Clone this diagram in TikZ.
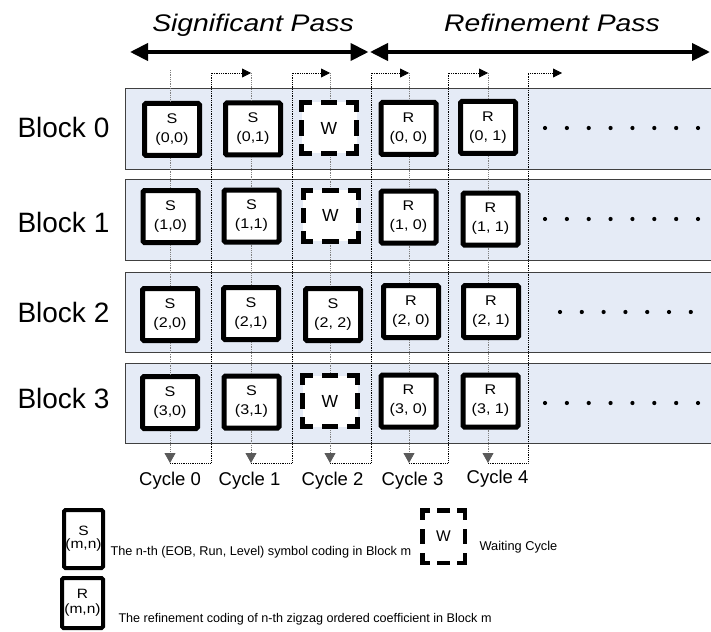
\documentclass[tikz,border=0pt]{standalone}
\usepackage{fontspec}
\usepackage{graphicx}
\setmainfont{Liberation Sans}
\usetikzlibrary{arrows.meta}

\definecolor{rowblue}{RGB}{229,235,246}
\definecolor{tipgray}{RGB}{90,90,90}

% slightly widened text used inside the coding boxes
\newcommand\widetext[1]{\scalebox{1.15}[1]{#1}}

% one side of a waiting-cycle frame: corner piece, gap, middle dash, gap, corner piece
\newcommand\waitside[4]{% from, to, side length, line width
  \pgfmathsetmacro\wsa{0.19*#3-#4/2}%
  \pgfmathsetmacro\wsb{0.16*#3+#4}%
  \pgfmathsetmacro\wsc{0.30*#3-#4}%
  \draw[line width=#4pt, line cap=rect,
        dash pattern=on \wsa pt off \wsb pt on \wsc pt off \wsb pt on \wsa pt off 200pt]
        (#1) -- (#2);}
\newcommand\waitframe[4]{% node, width, height, line width
  \waitside{#1.north west}{#1.north east}{#2}{#4}%
  \waitside{#1.north east}{#1.south east}{#3}{#4}%
  \waitside{#1.south east}{#1.south west}{#2}{#4}%
  \waitside{#1.south west}{#1.north west}{#3}{#4}}

\tikzset{
  rowbg/.style={fill=rowblue, draw=black!75, line width=0.9pt},
  codebox/.style={draw, fill=white, line width=5pt, rounded corners=1.5pt,
    minimum width=55pt, minimum height=52pt, inner sep=0pt, align=center,
    font=\fontsize{14}{19}\selectfont},
  waitbox/.style={fill=white, minimum width=55pt, minimum height=51pt,
    inner sep=0pt, outer sep=0pt, font=\fontsize{17.5}{20}\selectfont},
  colline/.style={black!50, densely dotted, line width=0.8pt},
  stepline/.style={black, densely dotted, line width=0.8pt},
  steptip/.style={-{Triangle[length=9pt,width=9pt]}},
  downtip/.style={-{Triangle[length=10pt,width=11pt,color=tipgray]}},
  passarrow/.style={line width=4pt,
    {Triangle[length=18pt,width=17pt]}-{Triangle[length=18pt,width=17pt]}},
  passtitle/.style={anchor=base, font=\fontsize{24}{26}\selectfont\itshape},
  blocklabel/.style={anchor=base west, font=\fontsize{28}{30}\selectfont},
  cyclelabel/.style={anchor=base, font=\fontsize{18.5}{20}\selectfont},
  legendtext/.style={anchor=base west, font=\fontsize{12.7}{14}\selectfont},
}

\begin{document}
\begin{tikzpicture}[x=1pt,y=-1pt]
\useasboundingbox (0,0) rectangle (711,631);

% pass headings and their extent arrows
\node[passtitle] (sigtitle) at (253,32) {\scalebox{1.18}[1]{Significant Pass}};
\node[passtitle] (reftitle) at (552,32) {\scalebox{1.18}[1]{Refinement Pass}};
\coordinate (spL) at (130,52);
\coordinate (spR) at (368.5,52);
\coordinate (rpL) at (370,52);
\coordinate (rpR) at (710,52);
\draw[passarrow] (spL) -- (spR);
\draw[passarrow] (rpL) -- (rpR);

% block rows
\foreach \t/\b in {88/169,179/260,272/352,363/443}
  \draw[rowbg] (125,\t) rectangle (716,\b);

\node[blocklabel] (blk0) at (14,138) {Block 0};
\node[blocklabel] (blk1) at (14,232) {Block 1};
\node[blocklabel] (blk2) at (14,322) {Block 2};
\node[blocklabel] (blk3) at (14,408) {Block 3};

% coding slots
\node[codebox] (b00) at (172,129.5) {\widetext{S}\\\widetext{(0,0)}};
\node[codebox] (b01) at (253,129)   {\widetext{S}\\\widetext{(0,1)}};
\node[waitbox] (b02) at (329,128)   {W};
\node[codebox] (b03) at (408.5,128.5) {\widetext{R}\\\widetext{(0, 0)}};
\node[codebox] (b04) at (488,127.5) {\widetext{R}\\\widetext{(0, 1)}};

\node[codebox] (b10) at (170.5,216.5) {\widetext{S}\\\widetext{(1,0)}};
\node[codebox] (b11) at (251.5,216)   {\widetext{S}\\\widetext{(1,1)}};
\node[waitbox] (b12) at (330.5,215.5) {W};
\node[codebox] (b13) at (408.5,217)   {\widetext{R}\\\widetext{(1, 0)}};
\node[codebox] (b14) at (490.5,219)   {\widetext{R}\\\widetext{(1, 1)}};

\node[codebox] (b20) at (170,314.5) {\widetext{S}\\\widetext{(2,0)}};
\node[codebox] (b21) at (251,313.5) {\widetext{S}\\\widetext{(2,1)}};
\node[codebox] (b22) at (333,314.5) {\widetext{S}\\\widetext{(2, 2)}};
\node[codebox] (b23) at (411,311.5) {\widetext{R}\\\widetext{(2, 0)}};
\node[codebox] (b24) at (491,311.5) {\widetext{R}\\\widetext{(2, 1)}};

\node[codebox] (b30) at (170,402.5) {\widetext{S}\\\widetext{(3,0)}};
\node[codebox] (b31) at (251.5,402) {\widetext{S}\\\widetext{(3,1)}};
\node[waitbox] (b32) at (330,401)   {W};
\node[codebox] (b33) at (408.5,401) {\widetext{R}\\\widetext{(3, 0)}};
\node[codebox] (b34) at (490.5,401) {\widetext{R}\\\widetext{(3, 1)}};

% trailing dots in each row
\foreach \y in {128,219,403}
  \foreach \i in {0,...,7}
    \fill (545+21.86*\i,\y) circle (2.1);
\foreach \i in {0,...,6}
  \fill (560+21.8*\i,312) circle (2.1);

% cycle columns: top and bottom ends, and cycle separators
\coordinate (ct0) at (170,70);
\foreach \k/\x in {1/251,2/330,3/409,4/488,5/562}
  \coordinate (ct\k) at (\x,73);
\foreach \k/\x in {0/170,1/251,2/330,3/409,4/488}
  \coordinate (cb\k) at (\x,463);
\foreach \k/\x in {1/211,2/292,3/371,4/448,5/528} {
  \coordinate (dt\k) at (\x,73);
  \coordinate (db\k) at (\x,463);
}

% data flow down each cycle column
\foreach \k in {0,...,4} {
  \draw[colline] (ct\k) -- (b0\k.north -| ct\k);
  \draw[colline] (b0\k.south -| ct\k) -- (b1\k.north -| ct\k);
  \draw[colline] (b1\k.south -| ct\k) -- (b2\k.north -| ct\k);
  \draw[colline] (b2\k.south -| ct\k) -- (b3\k.north -| ct\k);
  \draw[colline,downtip] (b3\k.south -| ct\k) -- (cb\k);
}

% hand-over from one cycle to the next
\foreach \k [evaluate=\k as \n using int(\k+1)] in {0,...,4}
  \draw[stepline,steptip] (cb\k) -- (db\n) -- (dt\n) -- (ct\n);

% dashed frames of the waiting slots
\waitframe{b02}{55}{51}{5}
\waitframe{b12}{55}{51}{5}
\waitframe{b32}{55}{51}{5}

% cycle labels
\node[cyclelabel] (cyc0) at (170,485)   {Cycle 0};
\node[cyclelabel] (cyc1) at (249.5,485) {Cycle 1};
\node[cyclelabel] (cyc2) at (332.5,485) {Cycle 2};
\node[cyclelabel] (cyc3) at (412.5,485) {Cycle 3};
\node[cyclelabel] (cyc4) at (497.5,483) {Cycle 4};

% legend
\node[codebox, line width=4pt, minimum width=39pt, minimum height=58pt,
      font=\fontsize{13.5}{14}\selectfont] (legS) at (83.5,539)
  {\raisebox{7pt}{\begin{tabular}{@{}c@{}}\widetext{S}\\[-1pt]\widetext{(m,n)}\end{tabular}}};
\node[legendtext] (legStext) at (107,555) {The n-th (EOB, Run, Level) symbol coding in Block m};

\node[waitbox, minimum width=42.5pt, minimum height=52.5pt,
      font=\fontsize{15.5}{17}\selectfont] (legW) at (443.5,536.5) {W};
\waitframe{legW}{42.5}{52.5}{4.5}
\node[legendtext, font=\fontsize{12.8}{14}\selectfont] (legWtext) at (476,550) {Waiting Cycle};

\node[codebox, line width=4pt, minimum width=41pt, minimum height=50pt,
      font=\fontsize{13.5}{15}\selectfont] (legR) at (82.5,603)
  {\widetext{R}\\\widetext{(m,n)}};
\node[legendtext, font=\fontsize{12.6}{14}\selectfont] (legRtext) at (115,622)
  {The refinement coding of n-th zigzag ordered coefficient in Block m};
\end{tikzpicture}
\end{document}
